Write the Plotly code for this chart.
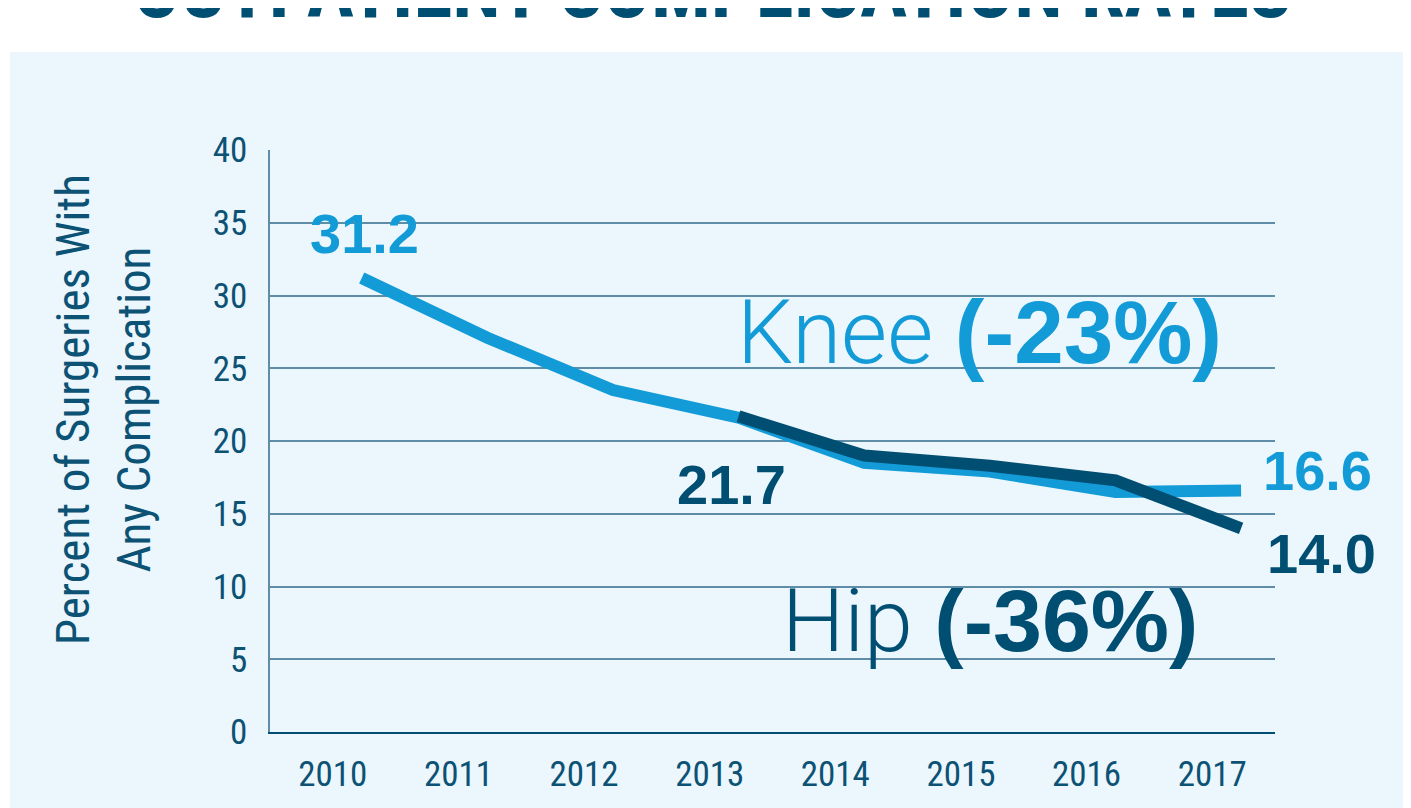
import plotly.graph_objects as go

years = [2010, 2011, 2012, 2013, 2014, 2015, 2016, 2017]
knee = [31.2, 27.1, 23.5, 21.6, 18.5, 17.9, 16.5, 16.6]
hip_years = [2013, 2014, 2015, 2016, 2017]
hip = [21.7, 19.0, 18.3, 17.3, 14.0]
y_ticks = [0, 5, 10, 15, 20, 25, 30, 35, 40]
grid_vals = [5, 10, 15, 20, 25, 30, 35]
label_offset = 0.23  # category labels sit left of the data points

KNEE = "#139bd7"
HIP = "#004e72"
NAVY = "#0b5274"
GRID = "#5f8ca6"
BG = "#ebf6fd"
NARROW = "Liberation Sans Narrow, Roboto Condensed, DejaVu Sans Condensed, sans-serif"
BOLD = "Liberation Sans, Arial, sans-serif"

OFF = 8  # page body margin
SW, SH = 1411, 808
W, H = SW - OFF, SH - OFF
# plot area in screen pixels
X0, X1, Y0, Y1 = 270, 1275, 150, 732
L, R, T, B = X0 - OFF, W - (X1 - OFF), Y0 - OFF, H - (Y1 - OFF)
PW, PH = X1 - X0, Y1 - Y0

def px(x):
    return (x - X0) / PW

def py(y):
    return (Y1 - y) / PH

fig = go.Figure()
fig.add_trace(go.Scatter(x=years, y=knee, mode="lines",
                         line=dict(color=KNEE, width=12), hoverinfo="skip", showlegend=False))
fig.add_trace(go.Scatter(x=hip_years, y=hip, mode="lines",
                         line=dict(color=HIP, width=12), hoverinfo="skip", showlegend=False))

fig.add_shape(type="rect", xref="paper", yref="paper", x0=px(10), x1=px(SW + 5), y0=py(52), y1=py(SH + 5),
              fillcolor=BG, line=dict(width=0), layer="below")

ann = []
ann.append(dict(x=px(712), y=py(-10), xref="paper", yref="paper", text="<b>OUTPATIENT COMPLICATION RATES</b>",
                showarrow=False, font=dict(family=NARROW, size=79, color=HIP), xanchor="center", yanchor="middle"))
ann.append(dict(x=px(103), y=py(410), xref="paper", yref="paper",
                text="Percent of Surgeries With<br>Any Complication", textangle=-90,
                showarrow=False, font=dict(family=NARROW, size=47, color=NAVY), xanchor="center", yanchor="middle"))
lab_font_k = dict(family=BOLD, size=56, color=KNEE, weight="bold")
lab_font_h = dict(family=BOLD, size=56, color=HIP, weight="bold")
ann.append(dict(x=years[0], y=knee[0], xref="x", yref="y", text=f"{knee[0]:.1f}", showarrow=False,
                font=lab_font_k, xshift=3, yshift=45))
ann.append(dict(x=years[-1], y=knee[-1], xref="x", yref="y", text=f"{knee[-1]:.1f}", showarrow=False,
                font=lab_font_k, xshift=76, yshift=20))
ann.append(dict(x=hip_years[0], y=hip[0], xref="x", yref="y", text=f"{hip[0]:.1f}", showarrow=False,
                font=lab_font_h, xshift=-7, yshift=-68))
ann.append(dict(x=hip_years[-1], y=hip[-1], xref="x", yref="y", text=f"{hip[-1]:.1f}", showarrow=False,
                font=lab_font_h, xshift=80, yshift=-25))
ann.append(dict(x=px(979), y=py(332), xref="paper", yref="paper",
                text="Knee <span style='font-family:Liberation Sans;font-weight:bold'>(-23%)</span>",
                showarrow=False, font=dict(family="Roboto", size=89, color=KNEE, weight=300),
                xanchor="center", yanchor="middle"))
ann.append(dict(x=px(990), y=py(620), xref="paper", yref="paper",
                text="Hip <span style='font-family:Liberation Sans;font-weight:bold'>(-36%)</span>",
                showarrow=False, font=dict(family="Roboto", size=88, color=HIP, weight=300),
                xanchor="center", yanchor="middle"))

fig.update_layout(
    width=W, height=H,
    margin=dict(l=L, r=R, t=T, b=B, pad=0),
    paper_bgcolor="white", plot_bgcolor="rgba(0,0,0,0)",
    showlegend=False,
    annotations=ann,
    xaxis=dict(range=[years[0] - 0.5 - label_offset, years[-1] + 0.5 - label_offset],
               tickvals=[y - label_offset for y in years], ticktext=[str(y) for y in years],
               showgrid=False, zeroline=False, showline=True, linecolor=HIP, linewidth=2,
               ticks="", tickfont=dict(family=NARROW, size=35, color=NAVY), ticklabelstandoff=10),
    yaxis=dict(range=[0, 40], tickvals=y_ticks, showgrid=False, zeroline=False,
               showline=True, linecolor=GRID, linewidth=1.5, ticks="",
               tickfont=dict(family=NARROW, size=35, color=NAVY), ticklabelstandoff=14,
               minor=dict(tickvals=grid_vals, showgrid=True, gridcolor=GRID, gridwidth=1.5, ticks="")),
)

fig.write_html("out.html")
